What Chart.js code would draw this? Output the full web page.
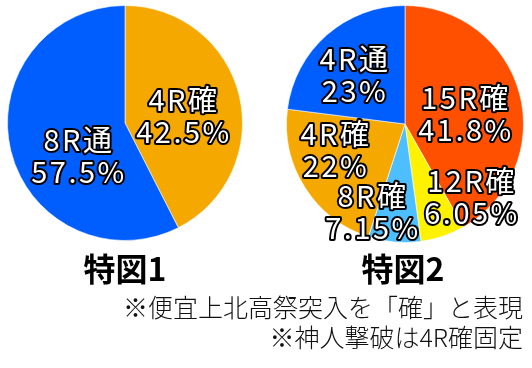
<!DOCTYPE html>
<html>
<head>
    <meta charset="utf-8">
    <script src="https://cdn.jsdelivr.net/npm/chart.js"></script>
    <style>
        html, body { margin: 0; padding: 0; background: #fff; }
        #wrap { position: relative; width: 532px; height: 368px; overflow: hidden;
                font-family: "Noto Sans CJK JP", "Noto Sans", sans-serif; }
        #c1 { position: absolute; left: 0; top: 0; }
        #c2 { position: absolute; left: 281px; top: 0; }
        .title { position: absolute; top: 246px; width: 160px; text-align: center;
                 font-size: 32px; font-weight: 700; color: #000; line-height: 42px; }
        .note { position: absolute; right: 9px; font-size: 25px; font-weight: 300; color: #111;
                line-height: 30px; white-space: nowrap; }
    </style>
</head>
<body>
    <div id="wrap">
        <canvas id="c1" width="250" height="246"></canvas>
        <canvas id="c2" width="248" height="248"></canvas>
        <div class="title" id="t1" style="left:45px"></div>
        <div class="title" id="t2" style="left:323px"></div>
        <div class="note" id="n1" style="top:291px"></div>
        <div class="note" id="n2" style="top:321px"></div>
    </div>

    <script>
        // データ
        const labels1 = ['4R確', '8R通'];
        const values1 = [42.5, 57.5];
        const colors1 = ['#F5A800', '#005EFF'];

        const labels2 = ['15R確', '12R確', '8R確', '4R確', '4R通'];
        const values2 = [41.8, 6.05, 7.15, 22, 23];
        const colors2 = ['#FF5000', '#FFF200', '#4DBEFF', '#F5A800', '#005EFF'];

        const titles = ['特図1', '特図2'];
        const notes = ['※便宜上北高祭突入を「確」と表現', '※神人撃破は4R確固定'];

        // ラベル(白文字+黒フチ)
        const outlinedLabels = {
            id: 'outlinedLabels',
            afterDatasetsDraw(chart, args, opts) {
                const ctx = chart.ctx;
                const meta = chart.getDatasetMeta(0);
                const data = chart.data.datasets[0].data;
                ctx.save();
                ctx.font = '29px "Noto Sans CJK JP", sans-serif';
                ctx.letterSpacing = '2.5px';
                ctx.textAlign = 'center';
                ctx.textBaseline = 'middle';
                ctx.lineJoin = 'round';
                meta.data.forEach((arc, i) => {
                    const off = opts.offsets[i];
                    const x = arc.x + off[0];
                    const y = arc.y + off[1];
                    const lines = [chart.data.labels[i], data[i] + '%'];
                    lines.forEach((t, k) => {
                        const ly = y + (k - 0.5) * 32;
                        ctx.lineWidth = 4;
                        ctx.strokeStyle = '#000';
                        ctx.strokeText(t, x, ly);
                        ctx.fillStyle = '#fff';
                        ctx.fillText(t, x, ly);
                    });
                });
                ctx.restore();
            }
        };

        function makePie(id, labels, values, colors, offsets) {
            return new Chart(document.getElementById(id), {
                type: 'pie',
                data: {
                    labels: labels,
                    datasets: [{
                        data: values,
                        backgroundColor: colors,
                        borderColor: 'rgba(255,255,255,0.6)',
                        borderWidth: 1
                    }]
                },
                options: {
                    responsive: false,
                    animation: false,
                    layout: { padding: 5 },
                    plugins: {
                        legend: { display: false },
                        tooltip: { enabled: false },
                        outlinedLabels: { offsets: offsets }
                    }
                },
                plugins: [outlinedLabels]
            });
        }

        makePie('c1', labels1, values1, colors1, [[59, -7], [-46, 33]]);
        makePie('c2', labels2, values2, colors2, [[61, -10], [67, 73], [-32, 88], [-69, 26], [-50, -49]]);

        document.getElementById('t1').textContent = titles[0];
        document.getElementById('t2').textContent = titles[1];
        document.getElementById('n1').textContent = notes[0];
        document.getElementById('n2').textContent = notes[1];
    </script>
</body>
</html>
